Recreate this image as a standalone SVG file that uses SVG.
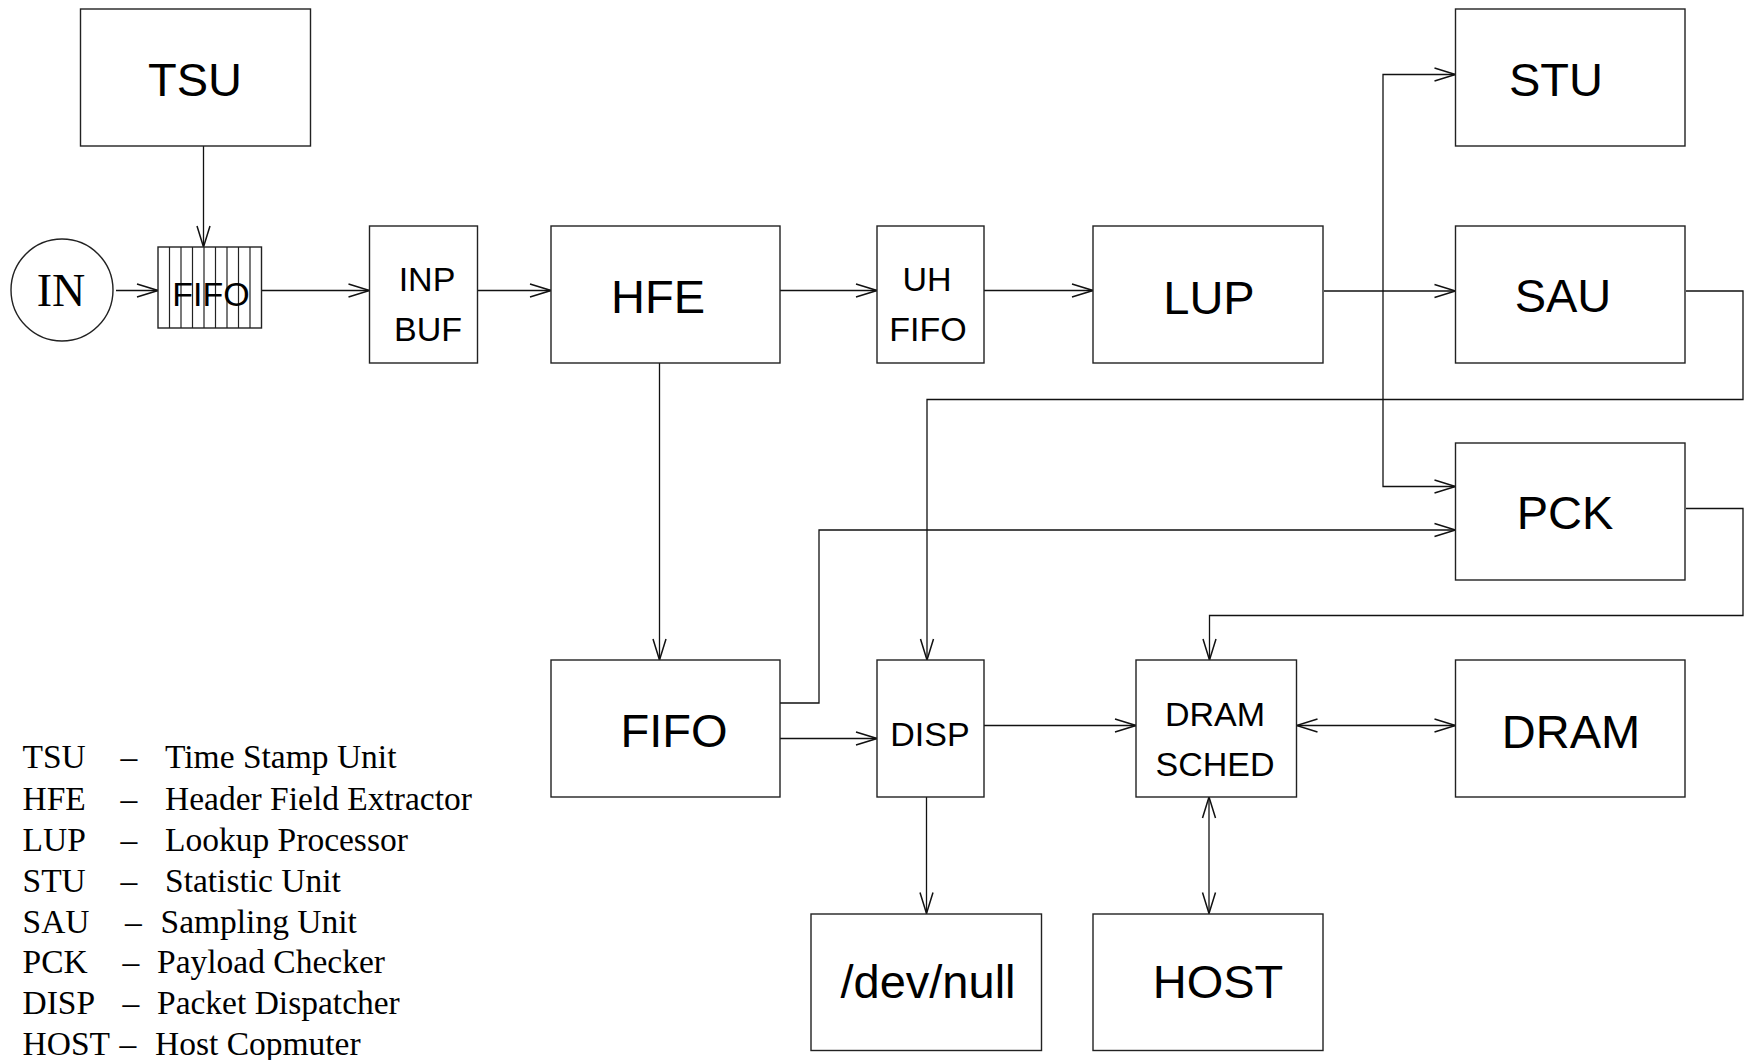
<svg xmlns="http://www.w3.org/2000/svg" width="1745" height="1060" viewBox="0 0 1745 1060">
<style>
.box{fill:#fff;stroke:#222;stroke-width:1.4}
.lbl{font-family:"Liberation Sans",Arial,sans-serif;font-size:47px;fill:#000;text-anchor:middle}
.sm{font-family:"Liberation Sans",Arial,sans-serif;font-size:34px;fill:#000;text-anchor:middle}
.leg{font-family:"Liberation Serif","Times New Roman",serif;font-size:33.5px;fill:#000}
.inl{font-family:"Liberation Serif","Times New Roman",serif;font-size:46px;fill:#000;text-anchor:middle}
.c{fill:none;stroke:#111;stroke-width:1.3}
.hatch{stroke:#222;stroke-width:1.2}
</style>
<defs>
<marker id="ah" markerUnits="userSpaceOnUse" markerWidth="24" markerHeight="16" viewBox="0 0 24 16" refX="22" refY="8" orient="auto-start-reverse">
<path d="M1,1.5 L22,8 L1,14.5" fill="none" stroke="#111" stroke-width="1.5"/>
</marker>
</defs>
<rect width="1745" height="1060" fill="#fff"/>

<g id="connectors">
<path class="c" d="M203.5,146 V247" marker-end="url(#ah)"/>
<path class="c" d="M116,290.5 H158" marker-end="url(#ah)"/>
<path class="c" d="M261.5,290.5 H369.5" marker-end="url(#ah)"/>
<path class="c" d="M477.5,290.5 H551" marker-end="url(#ah)"/>
<path class="c" d="M780,290.5 H877" marker-end="url(#ah)"/>
<path class="c" d="M984,290.5 H1093" marker-end="url(#ah)"/>
<path class="c" d="M1324,291 H1455.5" marker-end="url(#ah)"/>
<path class="c" d="M1383,291 V74.5 H1455.5" marker-end="url(#ah)"/>
<path class="c" d="M1383,291 V486.5 H1455.5" marker-end="url(#ah)"/>
<path class="c" d="M1686,291 H1743 V399.5 H927 V660" marker-end="url(#ah)"/>
<path class="c" d="M1686,508.5 H1743 V615.5 H1209.5 V660" marker-end="url(#ah)"/>
<path class="c" d="M780,703 H819 V530 H1455.5" marker-end="url(#ah)"/>
<path class="c" d="M780,738.5 H877" marker-end="url(#ah)"/>
<path class="c" d="M984,725.5 H1136" marker-end="url(#ah)"/>
<path class="c" d="M1296.5,725.5 H1455.5" marker-start="url(#ah)" marker-end="url(#ah)"/>
<path class="c" d="M926.5,797 V913.5" marker-end="url(#ah)"/>
<path class="c" d="M1209,797 V913.5" marker-start="url(#ah)" marker-end="url(#ah)"/>
<path class="c" d="M659.5,363 V660" marker-end="url(#ah)"/>
</g>

<g id="tsu"><rect class="box" x="80.5" y="9" width="230" height="137"/><text class="lbl" x="195" y="96">TSU</text></g>
<g id="in"><circle class="box" cx="62" cy="290" r="51"/><text class="inl" x="61" y="306">IN</text></g>
<g id="fifo-in">
<rect class="box" x="158" y="247" width="103.5" height="81"/>
<path class="hatch" d="M169.5,247V328M181,247V328M192.5,247V328M204,247V328M215.5,247V328M227,247V328M238.5,247V328M250,247V328"/>
<text class="sm" x="211" y="306">FIFO</text>
</g>
<g id="inpbuf"><rect class="box" x="369.5" y="226" width="108" height="137"/><text class="sm" x="427" y="291">INP</text><text class="sm" x="428" y="341">BUF</text></g>
<g id="hfe"><rect class="box" x="551" y="226" width="229" height="137"/><text class="lbl" x="658" y="313">HFE</text></g>
<g id="uhfifo"><rect class="box" x="877" y="226" width="107" height="137"/><text class="sm" x="927" y="291">UH</text><text class="sm" x="928" y="341">FIFO</text></g>
<g id="lup"><rect class="box" x="1093" y="226" width="230" height="137"/><text class="lbl" x="1209" y="314">LUP</text></g>
<g id="stu"><rect class="box" x="1455.5" y="9" width="229.5" height="137"/><text class="lbl" x="1556" y="96">STU</text></g>
<g id="sau"><rect class="box" x="1455.5" y="226" width="229.5" height="137"/><text class="lbl" x="1563" y="312">SAU</text></g>
<g id="pck"><rect class="box" x="1455.5" y="443" width="229.5" height="137"/><text class="lbl" x="1565" y="529">PCK</text></g>
<g id="fifo"><rect class="box" x="551" y="660" width="229" height="137"/><text class="lbl" x="674" y="747">FIFO</text></g>
<g id="disp"><rect class="box" x="877" y="660" width="107" height="137"/><text class="sm" x="930" y="745.5">DISP</text></g>
<g id="dramsched"><rect class="box" x="1136" y="660" width="160.5" height="137"/><text class="sm" x="1215" y="725.5">DRAM</text><text class="sm" x="1215" y="775.5">SCHED</text></g>
<g id="dram"><rect class="box" x="1455.5" y="660" width="229.5" height="137"/><text class="lbl" x="1571" y="748">DRAM</text></g>
<g id="devnull"><rect class="box" x="811" y="914" width="230.5" height="136.5"/><text class="lbl" x="928" y="998">/dev/null</text></g>
<g id="host"><rect class="box" x="1093" y="914" width="230" height="136.5"/><text class="lbl" x="1218" y="998">HOST</text></g>

<g id="legend">
<text class="leg" y="768"><tspan x="22.5">TSU</tspan><tspan x="120.5">–</tspan><tspan x="165">Time Stamp Unit</tspan></text>
<text class="leg" y="809.5"><tspan x="22.5">HFE</tspan><tspan x="120.5">–</tspan><tspan x="165">Header Field Extractor</tspan></text>
<text class="leg" y="850.5"><tspan x="22.5">LUP</tspan><tspan x="120.5">–</tspan><tspan x="165">Lookup Processor</tspan></text>
<text class="leg" y="891.5"><tspan x="22.5">STU</tspan><tspan x="120.5">–</tspan><tspan x="165">Statistic Unit</tspan></text>
<text class="leg" y="932.5"><tspan x="22.5">SAU</tspan><tspan x="125">–</tspan><tspan x="160.5">Sampling Unit</tspan></text>
<text class="leg" y="973"><tspan x="22.5">PCK</tspan><tspan x="122.5">–</tspan><tspan x="157">Payload Checker</tspan></text>
<text class="leg" y="1014"><tspan x="22.5">DISP</tspan><tspan x="122.5">–</tspan><tspan x="157">Packet Dispatcher</tspan></text>
<text class="leg" y="1055"><tspan x="22.5">HOST</tspan><tspan x="119.5">–</tspan><tspan x="155">Host Copmuter</tspan></text>
</g>
</svg>
